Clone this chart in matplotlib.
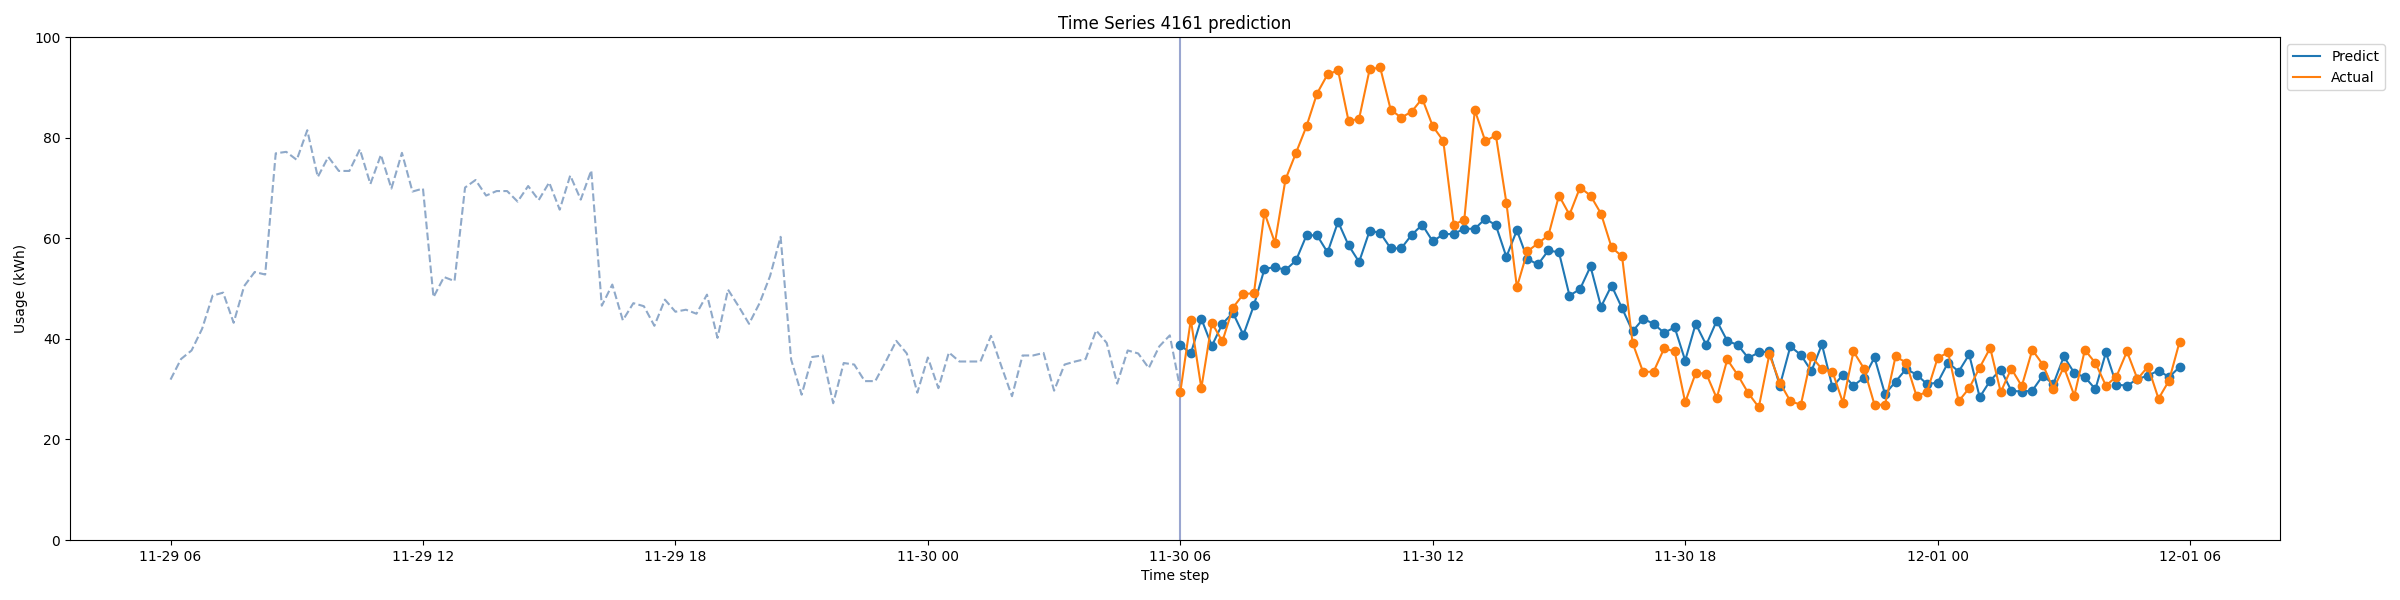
import matplotlib
matplotlib.use("Agg")
import matplotlib.pyplot as plt
import matplotlib.dates as mdates
from matplotlib.lines import Line2D
import pandas as pd

history = [
    31.9, 36.0, 37.7, 42.0, 48.6, 49.2, 43.2, 50.5, 53.3, 52.8,
    76.9, 77.2, 75.6, 81.5, 72.2, 76.2, 73.4, 73.4, 77.7, 70.8,
    76.6, 69.9, 77.0, 69.3, 69.9, 48.3, 52.3, 51.5, 70.1, 71.6,
    68.5, 69.4, 69.4, 67.3, 70.4, 67.6, 71.1, 65.7, 72.5, 67.7,
    73.5, 46.6, 50.8, 43.7, 47.1, 46.5, 42.6, 47.8, 45.4, 45.8,
    45.0, 48.8, 40.2, 49.8, 46.5, 43.0, 47.1, 52.5, 60.3, 35.9,
    28.9, 36.4, 36.7, 27.2, 35.2, 34.9, 31.6, 31.6, 35.5, 39.6,
    37.1, 29.3, 36.3, 30.2, 37.3, 35.5, 35.5, 35.5, 40.6, 34.5,
    28.6, 36.7, 36.7, 37.2, 29.7, 34.9, 35.5, 36.0, 41.7, 39.2,
    31.1, 37.7, 37.1, 34.2, 38.5, 40.7, 30.0,
]

predict = [
    38.8, 37.1, 44.0, 38.6, 43.0, 45.2, 40.8, 46.7, 53.9, 54.3,
    53.7, 55.6, 60.6, 60.6, 57.2, 63.3, 58.6, 55.3, 61.5, 61.1,
    58.0, 58.0, 60.7, 62.7, 59.4, 60.8, 60.9, 61.9, 61.9, 63.9,
    62.6, 56.3, 61.6, 55.9, 54.8, 57.6, 57.2, 48.6, 49.9, 54.4,
    46.4, 50.6, 46.1, 41.5, 44.0, 43.0, 41.2, 42.3, 35.7, 43.0,
    38.8, 43.6, 39.6, 38.8, 36.2, 37.3, 37.5, 30.7, 38.5, 36.8,
    33.6, 38.9, 30.4, 32.9, 30.7, 32.3, 36.3, 29.0, 31.5, 34.0,
    32.9, 31.0, 31.3, 35.3, 33.5, 36.9, 28.4, 31.7, 33.9, 29.7,
    29.5, 29.7, 32.7, 31.0, 36.5, 33.2, 32.4, 30.0, 37.3, 30.9,
    30.7, 32.0, 32.7, 33.7, 32.4, 34.4,
]

actual = [
    29.4, 43.8, 30.2, 43.2, 39.5, 46.2, 48.9, 49.1, 65.1, 59.1,
    71.7, 77.0, 82.3, 88.8, 92.6, 93.4, 83.3, 83.8, 93.6, 94.0,
    85.6, 84.0, 85.2, 87.8, 82.3, 79.4, 62.7, 63.7, 85.5, 79.3,
    80.5, 67.1, 50.3, 57.4, 59.0, 60.6, 68.5, 64.7, 70.1, 68.5,
    64.9, 58.2, 56.4, 39.2, 33.4, 33.5, 38.1, 37.5, 27.4, 33.2,
    33.1, 28.2, 35.9, 32.8, 29.2, 26.4, 36.9, 31.3, 27.6, 26.9,
    36.5, 34.0, 33.5, 27.3, 37.5, 34.1, 26.9, 26.9, 36.5, 35.3,
    28.6, 29.5, 36.2, 37.3, 27.6, 30.2, 34.3, 38.2, 29.4, 34.1,
    30.6, 37.8, 34.9, 30.0, 34.4, 28.7, 37.8, 35.2, 30.7, 32.5,
    37.5, 32.0, 34.5, 28.1, 31.7, 39.4,
]

history_start = "2016-11-29 06:00"
forecast_start = "2016-11-30 06:00"

hist_t = pd.date_range(history_start, periods=len(history), freq="15min")
pred_t = pd.date_range(forecast_start, periods=len(predict), freq="15min")

fig, ax = plt.subplots(figsize=(24, 6), dpi=100)
fig.subplots_adjust(left=0.0292, right=0.95, bottom=0.1, top=0.938)

ax.plot(hist_t, history, linestyle="--", color="#8fa9c9", linewidth=1.5)
ax.axvline(pd.Timestamp(forecast_start), color="#9aa6d0", linewidth=1.5)
ax.plot(pred_t, predict, color="#1f77b4", marker="o", linewidth=1.5, markersize=6)
ax.plot(pred_t, actual, color="#ff7f0e", marker="o", linewidth=1.5, markersize=6)

ax.set_ylim(0, 100)
ax.set_yticks([0, 20, 40, 60, 80, 100])
ax.xaxis.set_major_locator(mdates.HourLocator(byhour=[0, 6, 12, 18]))
ax.xaxis.set_major_formatter(mdates.DateFormatter("%m-%d %H"))

ax.set_title("Time Series 4161 prediction")
ax.set_xlabel("Time step")
ax.set_ylabel("Usage (kWh)")

handles = [Line2D([0], [0], color="#1f77b4", linewidth=1.5),
           Line2D([0], [0], color="#ff7f0e", linewidth=1.5)]
ax.legend(handles, ["Predict", "Actual"], loc="upper left", bbox_to_anchor=(1, 1))

fig.savefig("out.png", dpi=100)
